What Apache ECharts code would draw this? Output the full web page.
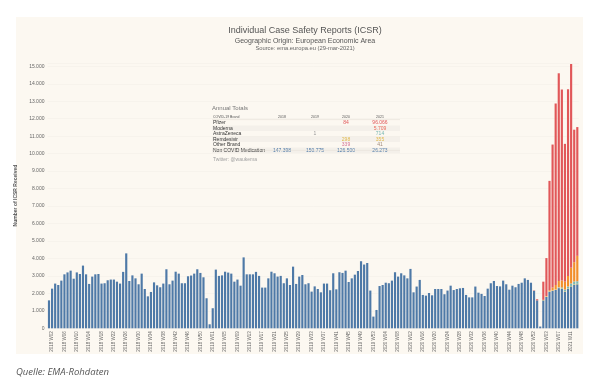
<!DOCTYPE html>
<html>
<head>
<meta charset="utf-8">
<script src="https://cdn.jsdelivr.net/npm/echarts@6/dist/echarts.min.js"></script>
<style>
  html, body { margin: 0; padding: 0; background: #ffffff; }
  #bg { position: absolute; left: 16px; top: 17px; width: 567px; height: 337px; background: #fcf8f1; }
  #chart { position: absolute; left: 0; top: 0; width: 609px; height: 392px; }
</style>
</head>
<body>
<div id="bg"></div>
<div id="chart"></div>
<script>
// ---- Data (weekly ICSR counts, EEA) ----
const years = [2018, 2019, 2020, 2021];
const weeksInYear = [53, 53, 53, 13];

const nonCovid2018 = [1600,2270,2560,2480,2730,3090,3200,3300,2840,3200,3110,3590,3090,2540,2960,3090,3110,2560,2580,2750,2790,2790,2670,2560,3230,4290,2710,3030,2860,2520,3130,2250,1830,2080,2630,2460,2350,2560,3380,2520,2730,3240,3130,2580,2580,2980,3020,3130,3380,3170,2920,1720,230];
const nonCovid2019 = [1150,3360,3000,3030,3240,3190,3130,2670,2790,2440,4060,3090,3090,3090,3230,3000,2330,2330,2860,3240,3150,2960,3000,2580,2860,2480,3530,2540,2960,3050,2520,2580,2100,2400,2250,2060,2560,2560,2180,3150,2230,3210,3170,3300,2650,2860,3070,3280,3840,3650,3740,2160,670];
const nonCovid2020 = [1050,2420,2480,2610,2580,2730,3210,2960,3150,3030,2860,3400,2060,2390,2770,1910,1870,2020,1890,2250,2250,2250,1950,2160,2440,2190,2250,2290,2310,1910,1770,1770,2390,2040,1970,1850,2270,2580,2710,2420,2400,2730,2520,2210,2440,2350,2540,2610,2860,2770,2610,2150,1600];
const nonCovid2021 = [100,1600,1800,2100,2150,2200,2300,2250,2100,2250,2400,2500,2520];

// 2020 W52, W53 Pfizer
const pfizer2020Tail = [20, 64];
// 2021 W01..W13
const pfizer2021     = [0,1040,2170,6260,8185,10390,11894,10930,7890,10690,11660,7585,7372];
const moderna2021    = [0,0,10,50,150,250,350,400,450,600,900,1100,1449];
const astra2021      = [0,0,0,0,0,0,20,60,90,110,140,150,144];
const remdesivir2021 = [0,30,35,30,30,30,30,30,25,30,25,30,30];
const other2021      = [0,0,5,0,5,0,6,0,5,5,5,5,5];

// Annual totals table
const tableRows   = ['Pfizer', 'Moderna', 'AstraZeneca', 'Remdesivir', 'Other Brand', 'Non COVID Medication'];
const tableYears  = ['2018', '2019', '2020', '2021'];
const totals2018  = [null, null, null, null, null, 147398];
const totals2019  = [null, null, 1, null, null, 150775];
const totals2020  = [84, null, null, 298, 339, 126500];
const totals2021  = [96066, 5709, 714, 355, 41, 26273];

// ---- Build ----
const categories = [];
years.forEach((y, k) => {
  for (let w = 1; w <= weeksInYear[k]; w++) categories.push(y + ' W' + (w < 10 ? '0' + w : w));
});
const nWeeks = categories.length;
const n2021Start = nWeeks - nonCovid2021.length;

const nonCovid = [].concat(nonCovid2018, nonCovid2019, nonCovid2020, nonCovid2021);
function only2021(arr) {
  const out = new Array(nWeeks).fill(null);
  arr.forEach((v, i) => { out[n2021Start + i] = v; });
  return out;
}
const pfizer = only2021(pfizer2021);
pfizer[n2021Start - 2] = pfizer2020Tail[0];
pfizer[n2021Start - 1] = pfizer2020Tail[1];

const fmt = v => String(v).replace(/\B(?=(\d{3})+(?!\d))/g, '.');

const C = {
  blue: '#4e79a7', red: '#e15759', orange: '#f28e2b', teal: '#76b7b2',
  yellow: '#edc948', pink: '#d37295', grey: '#9c9c9c'
};
const rowColors = [C.red, '#ea6a5a', C.teal, '#e0b84a', C.pink, C.blue];

// table graphic
const tbl = [];
const colX = [282, 315, 346, 380];
const rowY0 = 122.8, rowH = 5.5;
tbl.push({ type: 'text', left: 212, top: 105, style: { text: 'Annual Totals', font: '6px "Liberation Sans", Arial', fill: '#777' } });
tbl.push({ type: 'text', left: 213, top: 115.5, style: { text: 'COVID-19 Brand', font: '3.5px "Liberation Sans", Arial', fill: '#555' } });
tableYears.forEach((y, c) => {
  tbl.push({ type: 'text', x: colX[c], y: 117.3, style: { text: y, font: '3.5px "Liberation Sans", Arial', fill: '#555', align: 'center', verticalAlign: 'middle' } });
});
tbl.push({ type: 'line', shape: { x1: 212, y1: 119.6, x2: 400, y2: 119.6 }, style: { stroke: '#e3ddd3', lineWidth: 0.5 } });
const colsData = [totals2018, totals2019, totals2020, totals2021];
tableRows.forEach((r, i) => {
  const y = rowY0 + i * rowH;
  if (i % 2 === 1) {
    tbl.push({ type: 'rect', shape: { x: 212, y: y - rowH / 2, width: 188, height: rowH }, style: { fill: '#f4f0ea' }, z: -1 });
  }
  tbl.push({ type: 'text', x: 213, y: y, style: { text: r, font: '5px "Liberation Sans", Arial', fill: '#333', verticalAlign: 'middle' } });
  colsData.forEach((col, c) => {
    const v = col[i];
    if (v === null) return;
    let color = rowColors[i];
    if (i === 2 && c === 1) color = '#999';
    if (i === 4 && c === 3) color = '#a08a7a';
    tbl.push({ type: 'text', x: colX[c], y: y, style: { text: fmt(v), font: '5px "Liberation Sans", Arial', fill: color, align: 'center', verticalAlign: 'middle' } });
  });
});
tbl.push({ type: 'line', shape: { x1: 212, y1: rowY0 + 5.5 * rowH - 2.7, x2: 400, y2: rowY0 + 5.5 * rowH - 2.7 }, style: { stroke: '#e3ddd3', lineWidth: 0.5 } });
tbl.push({ type: 'text', left: 213, top: 157.5, style: { text: 'Twitter: @waukema', font: '5px "Liberation Sans", Arial', fill: '#a0a0a0' } });

const chart = echarts.init(document.getElementById('chart'), null, { renderer: 'canvas' });
const barBase = { type: 'bar', stack: 'total', barCategoryGap: '30%', emphasis: { disabled: true }, silent: true };

chart.setOption({
  animation: false,
  backgroundColor: 'transparent',
  title: [
    { text: 'Individual Case Safety Reports (ICSR)', left: 300, top: 21, textAlign: 'center',
      textStyle: { fontFamily: '"Liberation Sans", Arial', fontSize: 9, fontWeight: 'normal', color: '#555' } },
    { text: 'Geographic Origin: European Economic Area', left: 300, top: 32.5, textAlign: 'center',
      textStyle: { fontFamily: '"Liberation Sans", Arial', fontSize: 7, fontWeight: 'normal', color: '#555' } },
    { text: 'Source: ema.europa.eu (29-mar-2021)', left: 300, top: 40.5, textAlign: 'center',
      textStyle: { fontFamily: '"Liberation Sans", Arial', fontSize: 5.8, fontWeight: 'normal', color: '#666' } }
  ],
  grid: { left: 47.45, right: 30.15, top: 62.8, bottom: 63.7, containLabel: false },
  xAxis: {
    type: 'category',
    data: categories,
    axisLine: { show: false },
    axisTick: { show: false },
    axisLabel: {
      interval: (idx) => idx % 4 === 1,
      rotate: 90,
      fontSize: 4.5,
      margin: 3,
      color: '#666',
      fontFamily: '"Liberation Sans", Arial'
    }
  },
  yAxis: {
    type: 'value',
    min: 0, max: 15200, interval: 1000,
    name: 'Number of ICSR Received',
    nameLocation: 'middle',
    nameGap: 17,
    nameTextStyle: { fontSize: 5, fontWeight: 'bold', color: '#555', fontFamily: '"Liberation Sans", Arial' },
    axisLine: { show: false },
    axisTick: { show: false },
    splitLine: { lineStyle: { color: 'rgba(0,0,0,0.045)', width: 0.5 } },
    axisLabel: {
      fontSize: 5, color: '#666', margin: 3, fontFamily: '"Liberation Sans", Arial',
      formatter: v => (v % 1000 === 0 ? fmt(v) : '')
    }
  },
  series: [
    Object.assign({}, barBase, { name: 'Non COVID Medication', data: nonCovid, itemStyle: { color: C.blue } }),
    Object.assign({}, barBase, { name: 'Remdesivir', data: only2021(remdesivir2021), itemStyle: { color: C.yellow } }),
    Object.assign({}, barBase, { name: 'AstraZeneca', data: only2021(astra2021), itemStyle: { color: C.teal } }),
    Object.assign({}, barBase, { name: 'Other Brand', data: only2021(other2021), itemStyle: { color: C.pink } }),
    Object.assign({}, barBase, { name: 'Moderna', data: only2021(moderna2021), itemStyle: { color: C.orange } }),
    Object.assign({}, barBase, { name: 'Pfizer', data: pfizer, itemStyle: { color: C.red } })
  ],
  graphic: tbl.concat([
    { type: 'text', left: 16, top: 367.5, style: { text: 'Quelle: EMA-Rohdaten', font: 'italic 9.5px "Open Sans", Arial', fill: '#555' } }
  ])
});
</script>
</body>
</html>
